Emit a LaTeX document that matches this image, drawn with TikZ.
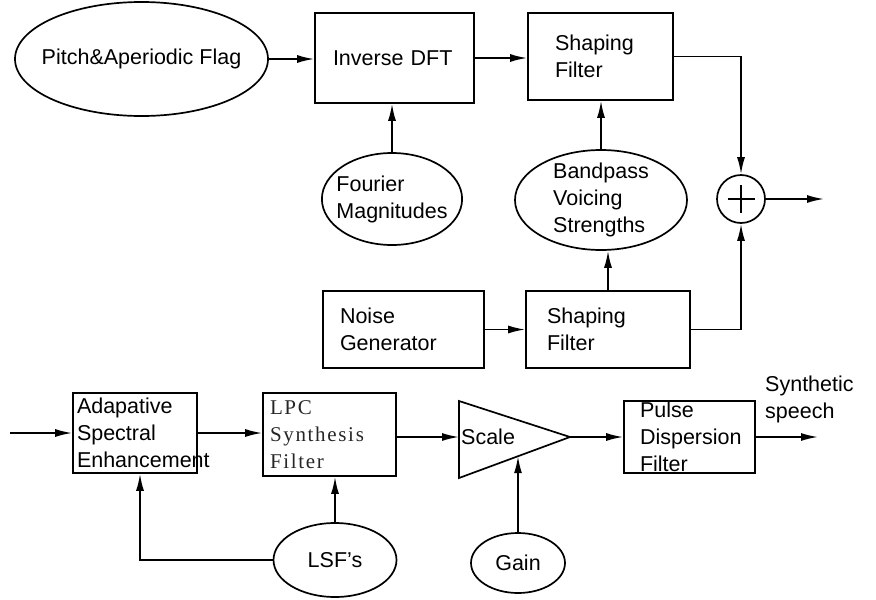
\documentclass[tikz,border=0pt]{standalone}
\usepackage{fontspec}
\setmainfont{Liberation Sans}
\newfontfamily\lpcfont[LetterSpace=8]{Liberation Serif}
\usetikzlibrary{arrows.meta,shapes.geometric,calc}
\begin{document}
\begin{tikzpicture}[x=1pt,y=-1pt,
  every node/.style={font=\fontsize{21.5}{27}\selectfont},
  blk/.style={draw,line width=1.7pt,rectangle,inner ysep=0pt,align=left},
  ell/.style={draw,line width=1.7pt,ellipse,inner sep=0pt,align=left},
  ln/.style={line width=1.7pt},
  arr/.style={line width=1.7pt,-{Latex[length=17pt,width=8pt]}}]
\useasboundingbox (0,0) rectangle (876,600);

% top part
\node[ell,inner xsep=-15pt,minimum width=253pt,minimum height=114pt] (pitch) at (141.5,59) {Pitch\&Aperiodic Flag};
\node[blk,inner xsep=18pt,text width=123pt,minimum height=90pt] (idft) at (394.5,58) {Inverse DFT};
\node[blk,inner xsep=27pt,text width=91pt,minimum height=87pt] (sf1) at (600.5,56.5) {Shaping\\Filter};
\node[ell,inner xsep=-6pt,minimum width=140pt,minimum height=92pt] (fourier) at (392,199) {Fourier\\Magnitudes};
\node[ell,inner ysep=-3pt,minimum width=172pt,minimum height=100pt] (bandpass) at (601,200) {Bandpass\\Voicing\\Strengths};
\node[draw,circle,ln,minimum size=48pt,inner sep=0pt,
  path picture={\draw[ln] ([xshift=-13.5pt]path picture bounding box.center) -- ([xshift=13.5pt]path picture bounding box.center);
                \draw[ln] ([yshift=-14pt]path picture bounding box.center) -- ([yshift=14pt]path picture bounding box.center);}] (sum) at (741,199) {};
\coordinate (out1) at (824,199);
\node[blk,inner xsep=17pt,text width=127pt,minimum height=77pt] (noise) at (403.5,329.5) {Noise\\Generator};
\node[blk,inner xsep=21pt,text width=122pt,minimum height=77pt] (sf2) at (608,329.5) {Shaping\\Filter};

% bottom part
\coordinate (in2) at (10,433);
\node[blk,inner xsep=4pt,text width=116pt,minimum height=80pt] (ase) at (135,433) {Adapative\\Spectral\\Enhancement};
\node[blk,inner xsep=7pt,text width=119pt,minimum height=83pt,font=\lpcfont\fontsize{21}{27}\selectfont,text=black!85] (lpc) at (329.5,434.5) {LPC\\Synthesis\\Filter};
\coordinate (tl) at (459,401);
\coordinate (bl) at (459,478);
\coordinate (tip) at (570,437);
\coordinate (sclin) at (459,437);
\draw[ln,line join=miter] (tl) -- (tip) -- (bl) -- cycle;
\node[anchor=west,inner sep=2pt] (scale) at (459,437) {Scale};
\node[blk,inner xsep=16pt,text width=99pt,minimum height=72pt] (pdf) at (689.5,437) {Pulse\\Dispersion\\Filter};
\coordinate (out2) at (818,437);
\node[anchor=west,align=left,inner sep=0pt] (syn) at (765,399) {Synthetic\\speech};
\node[ell,minimum width=94pt,minimum height=60pt] (gain) at (518,563) {Gain};
\node[ell,minimum width=123pt,minimum height=74pt] (lsf) at (335,560) {LSF's};
\coordinate (gainin) at ($(bl)!0.5315!(tip)$);

% connectors
\draw[arr] (pitch.east) -- (pitch.east -| idft.west);
\draw[arr] (idft.east) -- (idft.east -| sf1.west);
\draw[arr] (sf1.east) -| (sum.north);
\draw[arr] (sum.east) -- (out1);
\draw[arr] (fourier.north) -- (fourier.north |- idft.south);
\draw[arr] (bandpass.north) -- (bandpass.north |- sf1.south);
\draw[arr] (noise.east) -- (noise.east -| sf2.west);
\draw[arr] (sf2.north) -- (sf2.north |- bandpass.south);
\draw[arr] (sf2.east) -| (sum.south);
\draw[arr] (in2) -- (in2 -| ase.west);
\draw[arr] (ase.east) -- (ase.east -| lpc.west);
\draw[arr] (lpc.east |- sclin) -- (sclin);
\draw[arr] (tip) -- (tip -| pdf.west);
\draw[arr] (pdf.east) -- (out2);
\draw[arr] (gain.north) -- (gainin);
\draw[arr] (lsf.north) -- (lsf.north |- lpc.south);
\draw[arr] (lsf.west) -| ([xshift=5pt]ase.south);
\end{tikzpicture}
\end{document}
